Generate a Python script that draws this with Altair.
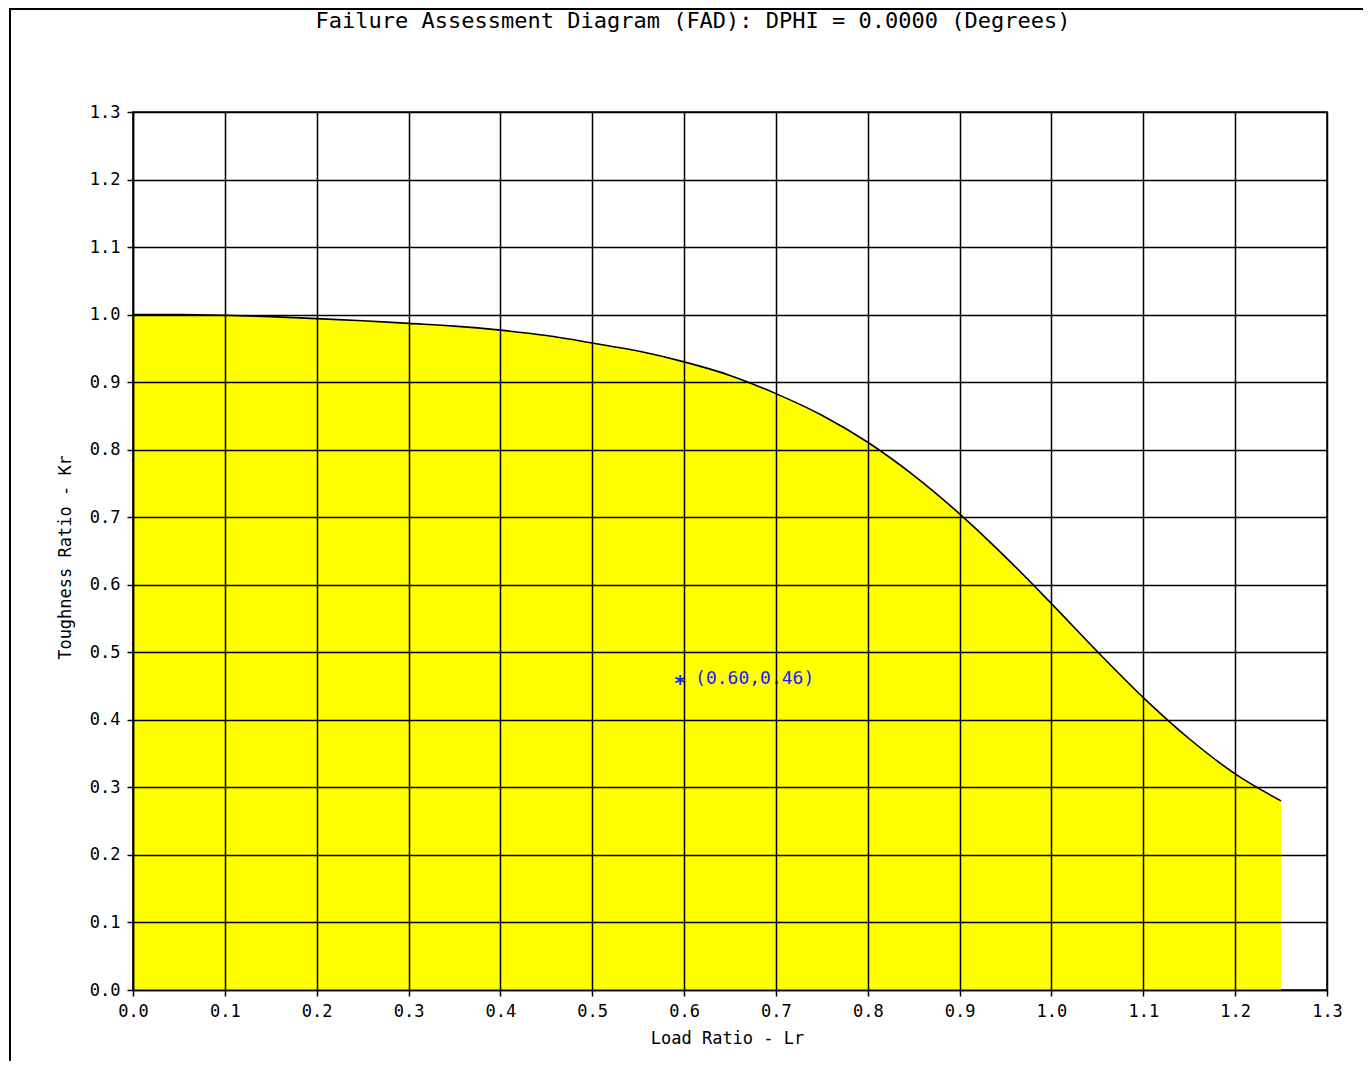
import altair as alt
import pandas as pd

# Failure assessment curve
lr = [0.0, 0.05, 0.1, 0.15, 0.2, 0.25, 0.3, 0.35, 0.4, 0.45, 0.5, 0.55, 0.6,
      0.65, 0.7, 0.75, 0.8, 0.85, 0.9, 0.95, 1.0, 1.05, 1.1, 1.15, 1.2, 1.25]
kr = [1.0, 1.0, 0.999, 0.997, 0.994, 0.991, 0.987, 0.983, 0.977, 0.969, 0.958,
      0.946, 0.930, 0.910, 0.883, 0.851, 0.811, 0.762, 0.705, 0.641, 0.572,
      0.501, 0.433, 0.372, 0.320, 0.280]

# assessment point
pt_lr = [0.60]
pt_kr = [0.46]
pt_label = ["(0.60,0.46)"]

ticks = [round(i * 0.1, 1) for i in range(14)]
title_text = "Failure Assessment Diagram (FAD): DPHI = 0.0000 (Degrees)"

W, H = 1194, 878
MONO = "DejaVu Sans Mono"

curve = pd.DataFrame({"Lr": lr, "Kr": kr})
pts = pd.DataFrame({"Lr": pt_lr, "Kr": pt_kr, "label": pt_label})
one = pd.DataFrame({"a": [0]})

xscale = alt.Scale(domain=[0, 1.3], nice=False, zero=False)
yscale = alt.Scale(domain=[0, 1.3], nice=False, zero=False)

xaxis = alt.Axis(values=ticks, format=".1f", grid=True, gridColor="black",
                 gridWidth=1.5, gridOpacity=1, domainColor="black", domainWidth=1.5,
                 tickColor="black", tickSize=6, tickWidth=1.5,
                 labelFont=MONO, labelFontSize=17, labelColor="black", labelPadding=7,
                 labelFlush=False, zindex=1,
                 title="Load Ratio - Lr", titleFont=MONO, titleFontSize=17,
                 titleFontWeight="normal", titleColor="black",
                 titleX=W / 2 - 3, titleY=48, titleBaseline="middle", titleAlign="center")
yaxis = alt.Axis(values=ticks, format=".1f", grid=True, gridColor="black",
                 gridWidth=1.5, gridOpacity=1, domainColor="black", domainWidth=1.5,
                 tickColor="black", tickSize=6, tickWidth=1.5,
                 labelFont=MONO, labelFontSize=17, labelColor="black", labelPadding=7,
                 labelFlush=False, zindex=1,
                 title="Toughness Ratio - Kr", titleFont=MONO, titleFontSize=17,
                 titleFontWeight="normal", titleColor="black",
                 titleX=-68, titleY=H / 2 + 6, titleAngle=270,
                 titleBaseline="middle", titleAlign="center")

x = alt.X("Lr:Q", scale=xscale, axis=xaxis)
y = alt.Y("Kr:Q", scale=yscale, axis=yaxis)

area = alt.Chart(curve).mark_area(color="#FFFF00", opacity=1, interpolate="monotone").encode(x=x, y=y)
line = alt.Chart(curve).mark_line(color="black", strokeWidth=1.6, interpolate="monotone").encode(
    x=alt.X("Lr:Q", scale=xscale), y=alt.Y("Kr:Q", scale=yscale))

star = alt.Chart(pts).mark_text(text="*", color="#1a1aff", font=MONO, fontSize=22,
                                fontWeight="bold", align="center", baseline="middle",
                                dx=-4, dy=5).encode(
    x=alt.X("Lr:Q", scale=xscale), y=alt.Y("Kr:Q", scale=yscale))
lab = alt.Chart(pts).mark_text(color="#1a1aff", font=MONO, fontSize=18, align="left",
                               baseline="middle", dx=11, dy=0).encode(
    x=alt.X("Lr:Q", scale=xscale), y=alt.Y("Kr:Q", scale=yscale), text="label:N")

title = alt.Chart(one).mark_text(color="black", font=MONO, fontSize=22, align="center",
                                 baseline="alphabetic").encode(
    x=alt.value(560), y=alt.value(-84), text=alt.value(title_text))

frame = alt.Chart(one).mark_rect(fillOpacity=0, stroke="black", strokeWidth=2,
                                 strokeOpacity=1, clip=False).encode(
    x=alt.value(-123), x2=alt.value(1400), y=alt.value(-103), y2=alt.value(1100))

chart = alt.layer(area, line, star, lab, title, frame).properties(
    width=W, height=H,
    autosize=alt.AutoSizeParams(type="none"),
    padding={"left": 125, "top": 104, "right": 36, "bottom": 71},
).configure_view(stroke="black", strokeWidth=1.5)

chart.save("out.html", embed_options={"renderer": "svg", "actions": False})
